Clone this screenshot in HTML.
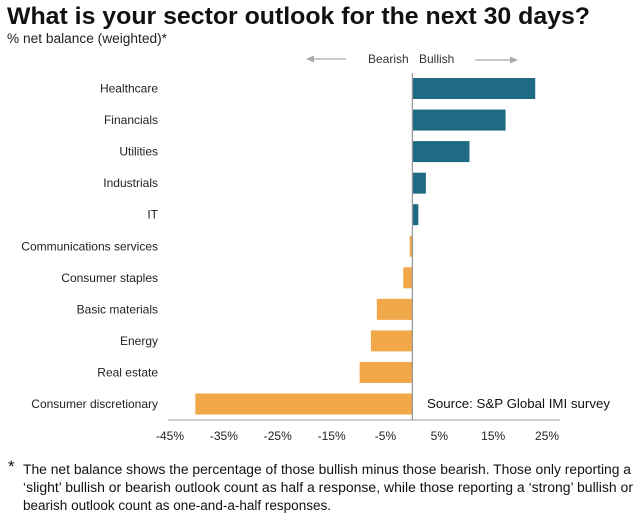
<!DOCTYPE html>
<html><head><meta charset="utf-8"><style>
body{margin:0;background:#fff;font-family:"Liberation Sans",sans-serif;}
#wrap{position:relative;width:640px;height:526px;overflow:hidden}
</style></head><body>
<div id="wrap">
<svg id="chart" width="640" height="526">
<text x="7" y="24" font-size="24" font-weight="bold" fill="#111" textLength="583" lengthAdjust="spacingAndGlyphs">What is your sector outlook for the next 30 days?</text>
<text x="7" y="43" font-size="13.5" fill="#222" textLength="160" lengthAdjust="spacingAndGlyphs">% net balance (weighted)*</text>
<g>
<line x1="312" y1="59" x2="346" y2="59" stroke="#aaa" stroke-width="1.2"/>
<polygon points="306,59 314,55.5 314,62.5" fill="#aaa"/>
<text x="368" y="63" font-size="12" fill="#333">Bearish</text>
<text x="419" y="63" font-size="12" fill="#333">Bullish</text>
<line x1="475" y1="60" x2="510" y2="60" stroke="#aaa" stroke-width="1.2"/>
<polygon points="518,60 510,56.5 510,63.5" fill="#aaa"/>
</g>
<g id="bars"></g>
<text x="427" y="408" font-size="13.3" fill="#111">Source: S&amp;P Global IMI survey</text>
<g font-size="13.4" fill="#111">
<text x="8" y="472" font-size="17">*</text>
<text x="23" y="474" textLength="608" lengthAdjust="spacingAndGlyphs">The net balance shows the percentage of those bullish minus those bearish. Those only reporting a</text>
<text x="23" y="492" textLength="610" lengthAdjust="spacingAndGlyphs">‘slight’ bullish or bearish outlook count as half a response, while those reporting a ‘strong’ bullish or</text>
<text x="23" y="510" textLength="308" lengthAdjust="spacingAndGlyphs">bearish outlook count as one-and-a-half responses.</text>
</g>
</svg>
</div>
<script>
const categories=["Healthcare","Financials","Utilities","Industrials","IT","Communications services","Consumer staples","Basic materials","Energy","Real estate","Consumer discretionary"];
const values=[22.8,17.3,10.6,2.5,1.1,-0.5,-1.7,-6.6,-7.7,-9.8,-40.3];
const ticks=[-45,-35,-25,-15,-5,5,15,25];
const ns="http://www.w3.org/2000/svg";
const g=document.getElementById('bars');
const x=v=>412.4+v*5.386;
const y=i=>88.5+i*31.55;
function mk(t,a){const e=document.createElementNS(ns,t);for(const k in a)e.setAttribute(k,a[k]);g.appendChild(e);return e;}
categories.forEach((c,i)=>{
  const v=values[i];
  const r=mk('rect',{x:Math.min(x(0),x(v)),y:y(i)-10.5,width:Math.abs(x(v)-x(0)),height:21,fill:v>=0?'#1f6b83':'#f0a848'});
  
  
  const t=mk('text',{x:158,y:y(i)+4,'font-size':12,'text-anchor':'end',fill:'#222'});
  t.textContent=c;
  
  
});
const ax=mk('line',{x1:168,y1:420,x2:560,y2:420,stroke:'#999','stroke-width':1});


const zl=mk('line',{x1:x(0),y1:73,x2:x(0),y2:420,stroke:'#999','stroke-width':1.3});


ticks.forEach(v=>{
  const t=mk('text',{x:x(v),y:440,'font-size':12,'text-anchor':'middle',fill:'#222'});
  t.textContent=v+'%';
  
  
});
</script>
</body></html>
